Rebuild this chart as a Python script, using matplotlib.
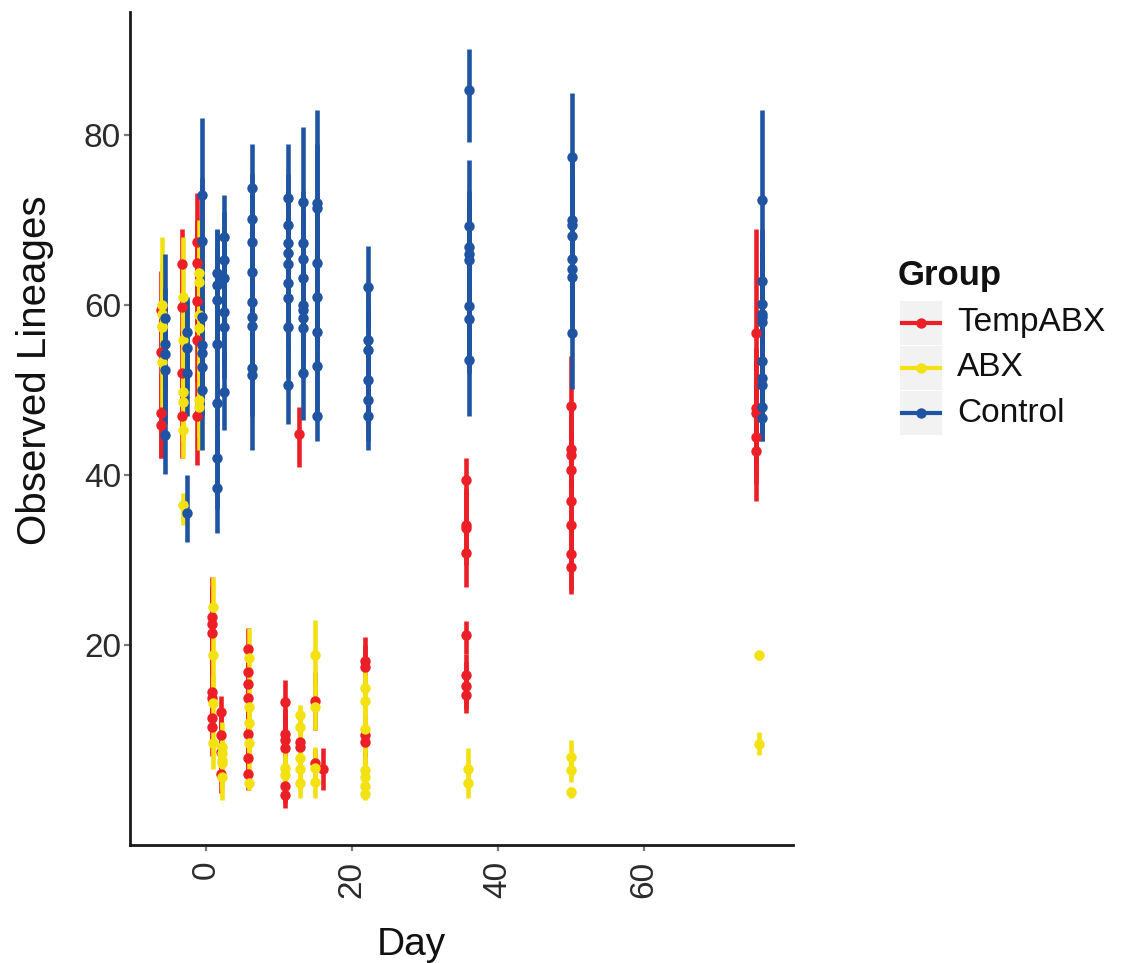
import matplotlib
matplotlib.use("Agg")
import matplotlib.pyplot as plt
from matplotlib.patches import Rectangle
from matplotlib.lines import Line2D

plt.rcParams["font.family"] = ["Liberation Sans", "DejaVu Sans"]

# ---- data: per group, one entry per sampling day, several samples per day ----
groups = ["TempABX", "ABX", "Control"]
colors = {"TempABX": "#EC1F26", "ABX": "#F3E111", "Control": "#1F54A3"}

tempabx_day = [-6.2, -3.3, -1.2, 0.8, 2.0, 5.8, 10.8, 12.9, 12.7, 14.9, 16.0, 21.8,
               35.6, 35.6, 50.0, 75.3]
tempabx_obs = [[59.5, 54.5, 47.3, 45.9], [64.9, 59.8, 52.0, 47.0],
               [67.4, 65.0, 60.5, 55.9, 47.0],
               [23.3, 22.5, 21.5, 14.5, 13.8, 11.5, 10.4], [12.1, 9.4, 7.4, 4.9],
               [19.6, 16.8, 15.5, 13.8, 9.6, 6.7, 4.9],
               [13.3, 9.6, 8.8, 7.9, 3.5, 2.4], [8.6, 8.0], [44.8],
               [13.5, 6.1], [5.5], [18.2, 17.4, 9.4, 8.6],
               [39.5, 34.2, 33.8, 30.9], [21.2, 16.5, 15.2, 14.1],
               [48.1, 43.1, 42.4, 40.6, 37.0, 34.1, 30.7, 29.2],
               [56.7, 47.9, 47.3, 44.5, 42.9]]
tempabx_lo = [[55.0, 50.0, 42.0, 42.0], [60.5, 55.0, 47.0, 42.0],
              [62.0, 60.0, 56.0, 51.0, 41.2],
              [18.5, 18.0, 17.0, 10.5, 10.0, 8.0, 7.0], [8.5, 6.5, 4.5, 2.6],
              [17.0, 13.5, 12.5, 10.5, 6.5, 4.0, 3.0],
              [10.5, 6.5, 6.0, 5.0, 1.5, 0.9], [6.0, 5.5], [41.0],
              [10.0, 4.5], [3.0], [15.5, 14.5, 6.5, 6.0],
              [35.0, 30.0, 29.5, 26.9], [19.0, 14.0, 12.5, 12.0],
              [42.0, 38.5, 38.0, 36.0, 32.5, 30.0, 26.5, 26.0],
              [44.0, 41.0, 40.0, 39.0, 37.0]]
tempabx_hi = [[64.0, 59.0, 52.0, 50.0], [69.0, 64.5, 57.0, 52.0],
              [73.2, 70.0, 65.0, 60.0, 52.0],
              [28.0, 27.0, 26.0, 19.0, 18.0, 15.0, 14.0], [14.0, 12.5, 10.5, 7.5],
              [22.0, 20.0, 19.0, 17.0, 13.0, 9.5, 7.5],
              [15.9, 12.5, 12.0, 11.0, 6.0, 4.5], [11.0, 10.5], [48.0],
              [16.8, 7.8], [7.9], [21.0, 20.0, 12.0, 11.0],
              [42.0, 38.5, 38.0, 35.0], [22.9, 19.0, 18.0, 16.5],
              [54.0, 48.0, 47.0, 45.0, 41.5, 38.5, 35.0, 33.0],
              [69.0, 55.0, 54.0, 50.0, 48.0]]

abx_day = [-6.0, -3.1, -0.9, 1.0, 2.2, 5.9, 10.8, 12.9, 14.9, 21.8, 35.9, 50.0, 75.7]
abx_obs = [[60.0, 59.0, 57.6, 57.4, 53.3], [61.0, 55.9, 49.8, 48.6, 45.3, 36.5],
           [63.8, 62.7, 58.8, 57.3, 48.8, 48.0], [24.5, 18.8, 13.2, 8.5],
           [8.0, 7.3, 6.5, 6.2, 4.5], [18.5, 12.7, 10.8, 8.5, 3.8], [5.6, 4.7],
           [11.8, 10.4, 6.7, 5.5, 3.8], [18.8, 12.7, 5.6, 3.9],
           [15.0, 13.5, 10.2, 5.3, 4.5, 3.5, 2.5], [5.5, 3.8], [6.8, 5.3, 2.7],
           [18.8, 8.4]]
abx_lo = [[54.0, 53.0, 52.0, 52.0, 48.0], [55.0, 50.0, 45.0, 44.0, 42.0, 34.1],
          [58.0, 57.0, 53.0, 52.0, 44.5, 43.0], [21.0, 15.0, 10.0, 5.5],
          [5.0, 4.5, 3.5, 3.0, 1.8], [15.0, 9.5, 7.5, 5.5, 3.0], [3.5, 2.5],
          [8.5, 7.5, 4.0, 3.0, 2.0], [14.5, 10.0, 3.5, 2.0],
          [12.0, 10.5, 7.5, 3.0, 2.5, 2.0, 1.8], [3.5, 2.0], [4.5, 3.9, 2.0],
          [18.3, 7.1]]
abx_hi = [[68.0, 65.0, 63.0, 62.5, 58.5], [68.0, 61.0, 55.0, 53.5, 50.0, 37.9],
          [70.0, 68.0, 64.5, 62.5, 53.5, 52.5], [28.0, 22.5, 16.5, 11.5],
          [11.0, 10.0, 9.5, 9.0, 7.0], [22.0, 16.0, 14.0, 11.5, 5.5], [8.0, 7.0],
          [13.0, 12.5, 9.5, 8.0, 6.0], [23.0, 15.5, 8.0, 6.0],
          [18.0, 16.5, 13.0, 8.0, 7.0, 5.5, 4.0], [7.9, 6.0], [8.8, 7.0, 3.3],
          [19.3, 9.8]]

control_day = [-5.6, -2.6, -0.5, 1.5, 2.5, 6.3, 11.2, 13.3, 15.2, 22.2, 36.0, 50.1, 76.2]
control_obs = [[58.5, 55.5, 54.3, 52.4, 44.7], [56.8, 55.0, 52.0, 35.6],
               [73.0, 67.6, 58.6, 55.3, 54.4, 52.7, 50.0],
               [63.8, 62.4, 60.6, 55.5, 48.5, 42.0, 38.5],
               [68.0, 65.3, 63.2, 59.2, 57.4, 49.8],
               [73.8, 70.2, 67.4, 63.9, 60.4, 58.6, 57.6, 52.6, 51.8],
               [72.6, 69.4, 67.3, 66.2, 64.9, 62.6, 60.8, 57.4, 50.6],
               [72.1, 67.3, 65.5, 63.2, 60.0, 59.4, 58.5, 57.3, 52.0],
               [72.0, 71.5, 65.0, 61.0, 56.8, 52.9, 47.0],
               [62.1, 55.9, 54.7, 51.2, 48.8, 47.0],
               [85.3, 69.3, 66.8, 66.0, 65.3, 59.9, 58.4, 53.6],
               [77.5, 70.0, 69.5, 68.2, 65.5, 64.3, 63.3, 56.7],
               [72.4, 62.9, 60.2, 59.0, 58.6, 58.0, 53.5, 51.4, 50.6, 48.0, 46.7]]
control_lo = [[51.0, 50.0, 48.5, 46.0, 40.2], [52.0, 50.0, 47.0, 32.1],
              [64.0, 60.0, 52.0, 49.0, 48.0, 47.0, 43.0],
              [57.0, 56.0, 54.0, 49.0, 43.0, 36.0, 33.2],
              [63.0, 59.0, 57.0, 53.0, 51.5, 45.3],
              [69.0, 65.0, 62.0, 58.0, 54.0, 53.0, 52.0, 47.0, 43.0],
              [66.0, 63.0, 61.5, 60.5, 59.0, 57.0, 55.0, 51.5, 46.0],
              [65.0, 61.0, 60.0, 57.5, 54.0, 53.5, 53.0, 51.5, 46.5],
              [65.0, 64.0, 59.0, 55.0, 51.0, 47.0, 44.0],
              [57.0, 50.0, 49.5, 46.0, 44.0, 43.0],
              [79.2, 62.0, 60.0, 59.5, 59.0, 53.5, 52.0, 47.0],
              [70.0, 63.0, 62.5, 61.5, 59.0, 58.0, 57.0, 50.2],
              [62.0, 57.0, 54.0, 53.0, 52.5, 52.0, 47.5, 46.0, 45.0, 44.0, 44.0]]
control_hi = [[66.0, 62.0, 60.0, 58.0, 49.0], [61.0, 60.6, 57.0, 40.0],
              [82.0, 75.0, 65.0, 61.0, 60.5, 58.5, 57.0],
              [69.0, 68.8, 67.0, 62.0, 54.0, 48.0, 44.0],
              [73.0, 71.0, 69.0, 65.0, 63.0, 54.5],
              [79.0, 75.5, 73.0, 70.0, 66.5, 64.5, 63.5, 58.0, 59.0],
              [79.0, 75.5, 73.5, 72.0, 71.0, 68.5, 67.0, 63.5, 55.5],
              [81.0, 73.5, 71.0, 69.0, 66.0, 65.5, 64.5, 63.0, 57.5],
              [83.0, 79.0, 71.0, 67.0, 63.0, 59.0, 51.0],
              [67.0, 62.0, 60.0, 56.5, 54.0, 51.5],
              [90.1, 77.1, 73.5, 72.5, 71.5, 66.0, 64.5, 60.0],
              [85.0, 77.0, 76.5, 75.0, 72.0, 70.5, 69.5, 63.0],
              [83.0, 69.0, 66.5, 65.0, 64.5, 64.0, 59.5, 57.0, 56.0, 52.0, 50.0]]

series = {
    "TempABX": (tempabx_day, tempabx_obs, tempabx_lo, tempabx_hi),
    "ABX": (abx_day, abx_obs, abx_lo, abx_hi),
    "Control": (control_day, control_obs, control_lo, control_hi),
}

W, H = 1125, 963
fig = plt.figure(figsize=(W / 100, H / 100), dpi=100)
ax = fig.add_axes([130 / W, 1 - 845 / H, (793 - 130) / W, (845 - 12) / H])

for name in groups:
    days, obs, lo, hi = series[name]
    c = colors[name]
    for d, ys, ls, hs in zip(days, obs, lo, hi):
        for y, l, h in zip(ys, ls, hs):
            ax.vlines(d, l, h, color=c, linewidth=3.3, zorder=2)
            ax.plot([d], [y], "o", color=c, markersize=7.5, markeredgewidth=0, zorder=3)

ax.set_xlim(-10.4, 80.4)
ax.set_ylim(-3.5, 94.5)
ax.set_xticks([0, 20, 40, 60])
ax.set_yticks([20, 40, 60, 80])
ax.set_xticklabels(["0", "20", "40", "60"], rotation=90)
for s in ["top", "right"]:
    ax.spines[s].set_visible(False)
for s in ["left", "bottom"]:
    ax.spines[s].set_linewidth(2.0)
    ax.spines[s].set_color("#1a1a1a")
ax.tick_params(axis="both", length=4.5, width=1.6, color="#7a7a7a",
               labelsize=24, labelcolor="#2b2b2b")
ax.tick_params(axis="x", pad=7)
ax.tick_params(axis="y", pad=2)

# axis titles
fig.text(411 / W, 1 - 955 / H, "Day", fontsize=28, color="#111111",
         ha="center", va="baseline")
fig.text(35 / W, 1 - 370 / H, "Observed Lineages", fontsize=29, color="#111111",
         ha="center", va="center", rotation=90)

# legend drawn in figure pixel space
lg = fig.add_axes([0, 0, 1, 1], zorder=5)
lg.set_xlim(0, W)
lg.set_ylim(H, 0)
lg.axis("off")
lg.text(898, 285, "Group", fontsize=25, fontweight="bold", color="#111111",
        ha="left", va="baseline")
row_tops = [301, 346, 391]
for name, top in zip(groups, row_tops):
    lg.add_patch(Rectangle((900, top), 42, 44, facecolor="#F2F2F2", edgecolor="none"))
    cy = top + 22
    lg.add_line(Line2D([902, 940], [cy, cy], color=colors[name], linewidth=3.0))
    lg.plot([921], [cy], "o", color=colors[name], markersize=7.5, markeredgewidth=0)
    lg.text(957, cy, name, fontsize=24, color="#111111", ha="left", va="center")

fig.savefig("out.png", dpi=100)
